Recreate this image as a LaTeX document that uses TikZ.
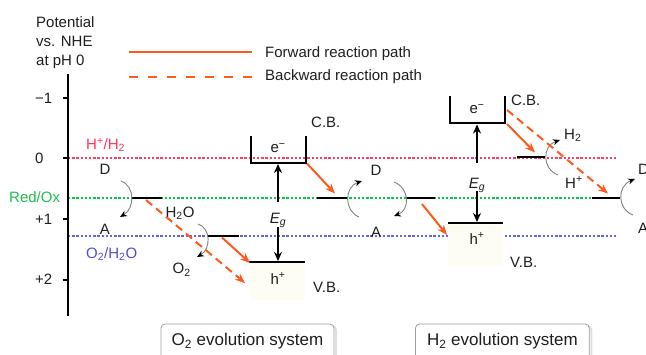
\documentclass[tikz,border=0pt]{standalone}
\usepackage{fontspec}
\setmainfont{Liberation Sans}
\usetikzlibrary{arrows.meta}
\definecolor{orng}{RGB}{255,90,30}
\definecolor{redl}{RGB}{255,60,100}
\definecolor{redt}{RGB}{255,50,90}
\definecolor{gdots}{RGB}{0,200,75}
\definecolor{grnt}{RGB}{30,190,80}
\definecolor{bdots}{RGB}{100,100,230}
\definecolor{blut}{RGB}{80,80,200}
\definecolor{txt}{RGB}{30,30,30}
\definecolor{pale}{RGB}{253,253,243}
\definecolor{curvgray}{RGB}{130,130,130}
\tikzset{
  lbl/.style={inner sep=0pt, anchor=base, text=txt},
  lblw/.style={inner sep=0pt, anchor=base west, text=txt},
  level/.style={line width=2pt, black},
  fwd/.style={orng, line width=2pt, -{Stealth[length=10pt,width=8pt]}},
  bwd/.style={orng, line width=2pt, dash pattern=on 8pt off 5pt, -{Stealth[length=10pt,width=8pt]}},
  egarrow/.style={line width=1.6pt, black, -{Stealth[length=9pt,width=8pt]}},
  curv/.style={draw=curvgray, line width=0.9pt, -{Stealth[length=7pt,width=6pt,color=black]}},
  dotl/.style={line width=1.6pt, dash pattern=on 2.4pt off 1.8pt},
  sysbox/.style={draw=gray!75, rounded corners=4pt, line width=0.8pt},
  boxfont/.style={font=\fontsize{17}{20}\selectfont}
}
\begin{document}
\begin{tikzpicture}[x=1pt,y=-1pt,font=\fontsize{15}{18}\selectfont]
\useasboundingbox (0,0) rectangle (646,354);

% axis title
\node[lblw] (t1) at (36,27) {Potential};
\node[lblw] (t2) at (36,46.5) {vs. NHE};
\node[lblw] (t3) at (36,65.5) {at pH 0};

% reference potential lines (drawn first, under everything)
\draw[dotl, draw=redl] (68,158) -- (618,158);
\draw[dotl, draw=gdots] (68,198) -- (592,198);
\draw[dotl, draw=bdots] (68,235.7) -- (618,235.7);

% axis
\draw[line width=2.8pt] (68,74) -- (68,316);
\foreach \yy in {97.7,157.7,219,279.5} \draw[line width=2pt] (62.5,\yy) -- (68,\yy);
\node[lblw] (m1) at (35,103.2) {−1};
\node[lblw] (z0) at (35,163.1) {0};
\node[lblw] (p1) at (35,224.4) {+1};
\node[lblw] (p2) at (35,284.9) {+2};

% legend
\coordinate (lsa) at (129,52.3); \coordinate (lsb) at (252,52.3);
\coordinate (lda) at (129,77.3); \coordinate (ldb) at (252,77.3);
\draw[orng, line width=2pt] (lsa) -- (lsb);
\draw[orng, line width=2pt, dash pattern=on 9pt off 10pt] (lda) -- (ldb);
\node[lblw] (lf) at (265,57) {Forward reaction path};
\node[lblw] (lb) at (265,80.5) {Backward reaction path};

\node[lblw, text=redt] (hh) at (86,149.5) {H\textsuperscript{+}/H\textsubscript{2}};
\node[lblw, text=grnt] (ro) at (9,202.7) {Red/Ox};
\node[lblw, text=blut] (oh) at (86,258.2) {O\textsubscript{2}/H\textsubscript{2}O};

% pale fills below valence bands
\fill[pale] (250,263) rectangle (305,300);
\fill[pale] (448,224.5) rectangle (503,266);

% ---------- O2 evolution side ----------
\coordinate (l1a) at (132,197.5); \coordinate (l1b) at (162,197.5);
\draw[level] (l1a) -- (l1b);
\coordinate (l2a) at (208,236); \coordinate (l2b) at (239,236);
\draw[level] (l2a) -- (l2b);
\node[lbl] (dl) at (105,174.4) {D};
\node[lbl] (al) at (105,234.4) {A};
\node[lbl] (h2o) at (180,217.4) {H\textsubscript{2}O};
\node[lbl] (o2) at (181.7,273.7) {O\textsubscript{2}};
\coordinate (c1s) at (121,181); \coordinate (c1e) at (120,217);
\draw[curv] (c1s) .. controls (135,186) and (135,208) .. (c1e);
\coordinate (c2s) at (198,224); \coordinate (c2e) at (197,257);
\draw[curv] (c2s) .. controls (211,228) and (211,249) .. (c2e);

% semiconductor 1
\coordinate (cb1a) at (250.7,136); \coordinate (cb1b) at (250.7,162.7);
\coordinate (cb1c) at (306,162.7); \coordinate (cb1d) at (306,136);
\draw[level, line join=miter] (cb1a) -- (cb1b) -- (cb1c) -- (cb1d);
\coordinate (vb1a) at (249,262); \coordinate (vb1b) at (305,262);
\draw[level] (vb1a) -- (vb1b);
\node[lbl] (e1) at (278,152.5) {e\textsuperscript{−}};
\node[lblw] (cbl1) at (311,127.4) {C.B.};
\node[lbl] (eg1) at (278,223.4) {\itshape E\textsubscript{g}};
\node[lbl] (hp1) at (278,284) {h\textsuperscript{+}};
\node[lblw] (vbl1) at (313,292.5) {V.B.};
\coordinate (u1s) at (278,202); \coordinate (u1e) at (278,164);
\draw[egarrow] (u1s) -- (u1e);
\coordinate (d1s) at (278,227); \coordinate (d1e) at (278,261);
\draw[egarrow] (d1s) -- (d1e);

% orange arrows O2 side
\coordinate (bd1s) at (146,200); \coordinate (bd1e) at (245,283);
\draw[bwd] (bd1s) -- (bd1e);
\coordinate (f1s) at (222,237.5); \coordinate (f1e) at (250,263);
\draw[fwd] (f1s) -- (f1e);
\coordinate (f2s) at (307,163.5); \coordinate (f2e) at (335,193.5);
\draw[fwd] (f2s) -- (f2e);

% ---------- middle mediator ----------
\coordinate (m1a) at (317,197.5); \coordinate (m1b) at (347,197.5);
\draw[level] (m1a) -- (m1b);
\coordinate (m2a) at (406,197.5); \coordinate (m2b) at (435,197.5);
\draw[level] (m2a) -- (m2b);
\node[lbl] (dm) at (376,175.4) {D};
\node[lbl] (am) at (376,237) {A};
\coordinate (c3s) at (359,217); \coordinate (c3e) at (362,181);
\draw[curv] (c3s) .. controls (344,211) and (344,187) .. (c3e);
\coordinate (c4s) at (394,182); \coordinate (c4e) at (394,216);
\draw[curv] (c4s) .. controls (410,188) and (410,210) .. (c4e);
\coordinate (f3s) at (422,204); \coordinate (f3e) at (447,235);
\draw[fwd] (f3s) -- (f3e);

% ---------- H2 evolution side ----------
\coordinate (cb2a) at (450,96); \coordinate (cb2b) at (450,123.3);
\coordinate (cb2c) at (504.5,123.3); \coordinate (cb2d) at (504.5,96);
\draw[level, line join=miter] (cb2a) -- (cb2b) -- (cb2c) -- (cb2d);
\coordinate (vb2a) at (448,223.3); \coordinate (vb2b) at (503,223.3);
\draw[level] (vb2a) -- (vb2b);
\node[lbl] (e2) at (477,113.5) {e\textsuperscript{−}};
\node[lblw] (cbl2) at (511,105.5) {C.B.};
\node[lbl] (eg2) at (477,188.7) {\itshape E\textsubscript{g}};
\node[lbl] (hp2) at (477,244) {h\textsuperscript{+}};
\node[lblw] (vbl2) at (510,267) {V.B.};
\coordinate (u2s) at (477,163); \coordinate (u2e) at (477,124.5);
\draw[egarrow] (u2s) -- (u2e);
\coordinate (d2s) at (477,191); \coordinate (d2e) at (477,222);
\draw[egarrow] (d2s) -- (d2e);

\coordinate (h2a) at (517,157); \coordinate (h2b) at (545,157);
\draw[level] (h2a) -- (h2b);
\node[lblw] (h2t) at (564,139.5) {H\textsubscript{2}};
\node[lblw] (hpt) at (565,188) {H\textsuperscript{+}};
\coordinate (c5s) at (558,175); \coordinate (c5e) at (560,140);
\draw[curv] (c5s) .. controls (542,169) and (542,146) .. (c5e);

\coordinate (r3a) at (592,197.7); \coordinate (r3b) at (620,197.7);
\draw[level] (r3a) -- (r3b);
\node[lblw] (dr) at (638,174.4) {D};
\node[lblw] (ar) at (638,233.4) {A};
\coordinate (c6s) at (633,215); \coordinate (c6e) at (635,179);
\draw[curv] (c6s) .. controls (617,209) and (617,186) .. (c6e);

\coordinate (f4s) at (507,124); \coordinate (f4e) at (535,152.5);
\draw[fwd] (f4s) -- (f4e);
\coordinate (bd2s) at (507,110); \coordinate (bd2e) at (608,193.5);
\draw[bwd] (bd2s) -- (bd2e);

% ---------- system boxes ----------
\draw[gray!25, line width=2pt, rounded corners=4pt] (163,326) rectangle (336,372);
\draw[sysbox, fill=white] (161,324) rectangle (334,370);
\node[lbl, boxfont] (o2sys) at (247.5,345.6) {O\textsubscript{2} evolution system};
\draw[gray!25, line width=2pt, rounded corners=4pt] (417.5,326) rectangle (591.3,372);
\draw[sysbox, fill=white] (415.5,324) rectangle (589.3,370);
\node[lbl, boxfont] (h2sys) at (502.4,345.6) {H\textsubscript{2} evolution system};
\end{tikzpicture}
\end{document}
